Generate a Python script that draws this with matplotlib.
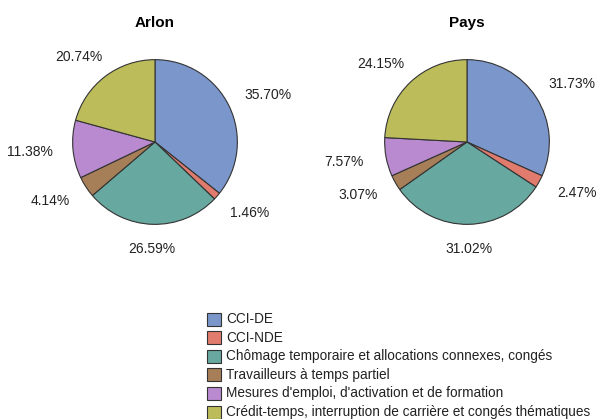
import numpy as np
import matplotlib.pyplot as plt
from matplotlib.patches import Rectangle

plt.rcParams['font.family'] = ['Liberation Sans', 'DejaVu Sans']

categories = ["CCI-DE", "CCI-NDE",
              "Chômage temporaire et allocations connexes, congés",
              "Travailleurs à temps partiel",
              "Mesures d'emploi, d'activation et de formation",
              "Crédit-temps, interruption de carrière et congés thématiques"]
arlon = [35.70, 1.46, 26.59, 4.14, 11.38, 20.74]
pays = [31.73, 2.47, 31.02, 3.07, 7.57, 24.15]
titles = ["Arlon", "Pays"]
colors = ["#7b96cb", "#e07b6d", "#67a8a0", "#a67f58", "#b98ad0", "#bdbc5b"]

W, H = 606, 419
fig = plt.figure(figsize=(W / 100, H / 100), dpi=100)


def pie_axes(cx, cy, r):
    return fig.add_axes([(cx - r) / W, 1 - (cy + r) / H, 2 * r / W, 2 * r / H])


def draw_pie(ax, vals, title):
    wedges, _ = ax.pie(vals, colors=colors, startangle=90, counterclock=False,
                       wedgeprops=dict(edgecolor="#333333", linewidth=0.8))
    ax.set_xlim(-1.02, 1.02)
    ax.set_ylim(-1.02, 1.02)
    ax.set_aspect('equal')
    ax.axis('off')
    total = sum(vals)
    cum = 0
    for v in vals:
        mid = (cum + v / 2) / total * 2 * np.pi
        cum += v
        dx, dy = np.sin(mid), np.cos(mid)
        x, y = 1.15 * dx, 1.15 * dy
        # push text outward by its half-extent
        ax.annotate("%.2f%%" % v, (x, y), xytext=(dx * 22, dy * 9),
                    textcoords='offset points', ha='center', va='center',
                    fontsize=10, color="#222222", annotation_clip=False)
    ax.set_title(title, fontsize=11, fontweight='bold', pad=22)


draw_pie(pie_axes(155, 142, 84), arlon, titles[0])
draw_pie(pie_axes(467, 142, 84), pays, titles[1])

# legend
for i, lab in enumerate(categories):
    yc = 319 + i * 18.6
    fig.patches.append(Rectangle((207 / W, 1 - (yc + 6.5) / H), 14 / W, 13 / H,
                                 transform=fig.transFigure, facecolor=colors[i],
                                 edgecolor="#333333", linewidth=0.8))
    fig.text(226 / W, 1 - yc / H, lab, fontsize=9.8, va='center', ha='left',
             color="#222222")

fig.savefig("out.png", dpi=100)
